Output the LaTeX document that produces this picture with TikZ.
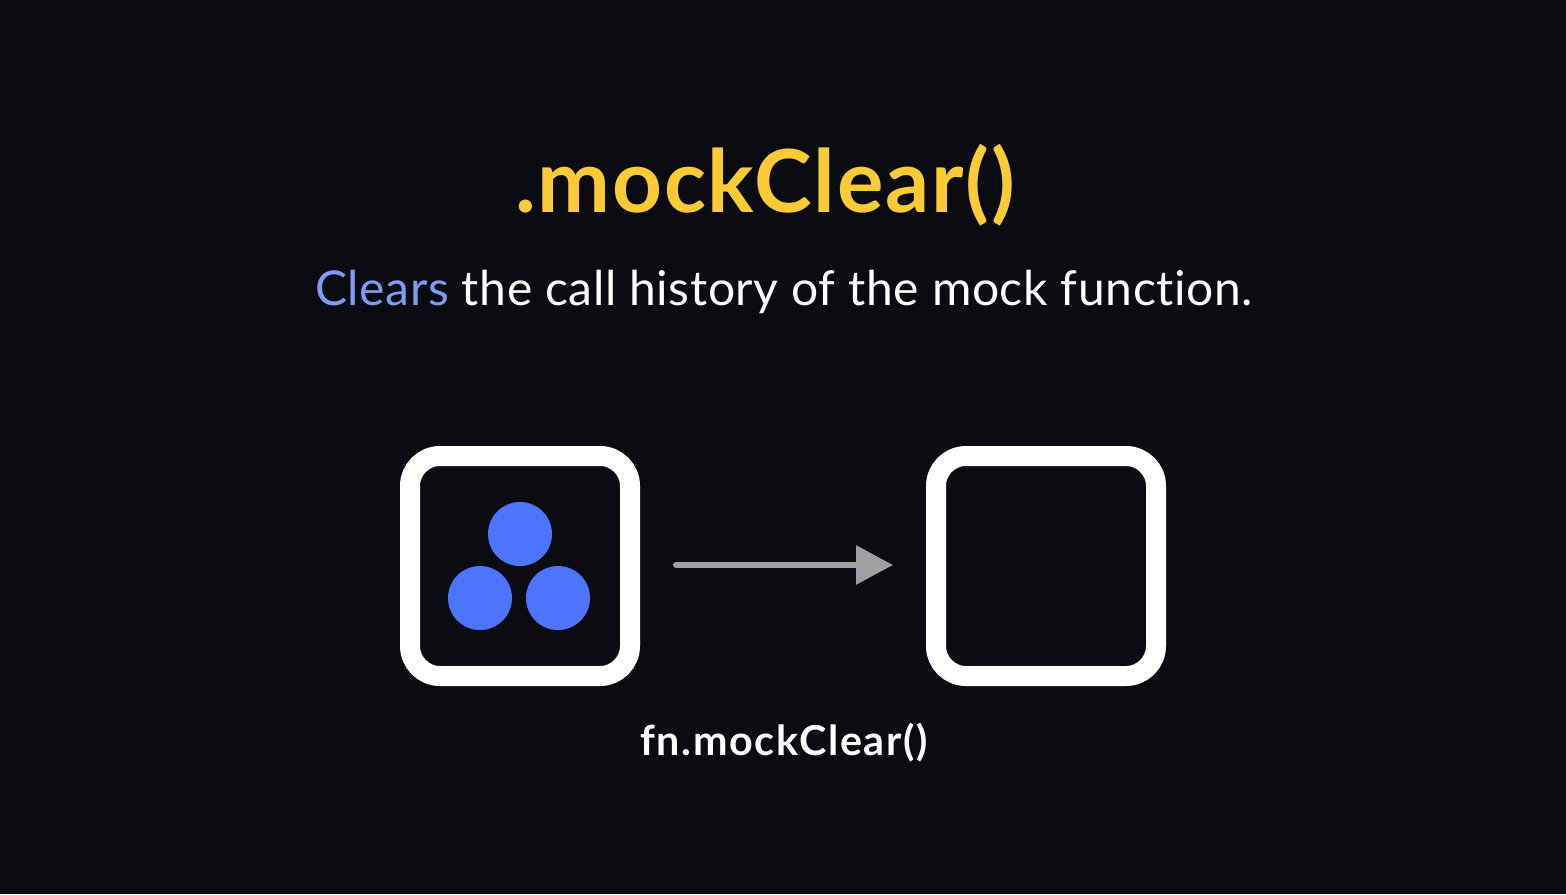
\documentclass[tikz,border=0pt]{standalone}
\usepackage{fontspec}
\setmainfont{Lato}[Ligatures=NoCommon]
\usepackage{xcolor}
\usetikzlibrary{arrows.meta, positioning}

\definecolor{bgdark}{HTML}{0A0C11}
\definecolor{mockyellow}{HTML}{FBCB35}
\definecolor{mockblue}{HTML}{7F9CF5}
\definecolor{dotblue}{HTML}{4C74FF}
\definecolor{arrowgray}{HTML}{A0A0A0}

\tikzset{
  fnbox/.style={draw=white, line width=20*0.02cm, rounded corners=30*0.02cm,
                minimum size=220*0.02cm, fill=bgdark, inner sep=0},
  calldot/.style={circle, fill=dotblue, minimum size=64*0.02cm, inner sep=0},
  clearflow/.style={draw=arrowgray, line width=6*0.02cm, line cap=round,
                    -{Triangle[length=37*0.02cm, width=38*0.02cm]}}
}

\begin{document}
\begin{tikzpicture}[x=0.02cm, y=-0.02cm]
  \fill[bgdark] (0,0) rectangle (1566,894);
  \useasboundingbox (0,0) rectangle (1566,894);
  %% Heading
  \node[anchor=base, text=mockyellow,
        font=\fontsize{49.5}{58}\selectfont\bfseries\addfontfeature{LetterSpace=2.0}]
    (title) at (765,212) {.mockClear()};
  \node[anchor=base, text=white,
        font=\fontsize{27.3}{32}\selectfont\addfontfeature{LetterSpace=1.3}]
    (subtitle) at (784,305) {\textcolor{mockblue}{Clears} the call history of the mock function.};
  %% Mock before and after
  \node[fnbox] (before) at (520,566) {};
  \node[fnbox] (after) at (1046,566) {};
  \node[calldot] (callA) at (520,534) {};
  \node[calldot] (callB) at (480,598) {};
  \node[calldot] (callC) at (558,598) {};
  %% Clearing step
  \draw[clearflow, shorten <=36*0.02cm, shorten >=33*0.02cm] (before.east |- 0,565) -- (after.west |- 0,565);
  \node[anchor=base, text=white,
        font=\fontsize{23.5}{28}\selectfont\bfseries\addfontfeature{LetterSpace=4}]
    (callname) at (784,755) {fn.mockClear()};
\end{tikzpicture}
\end{document}
